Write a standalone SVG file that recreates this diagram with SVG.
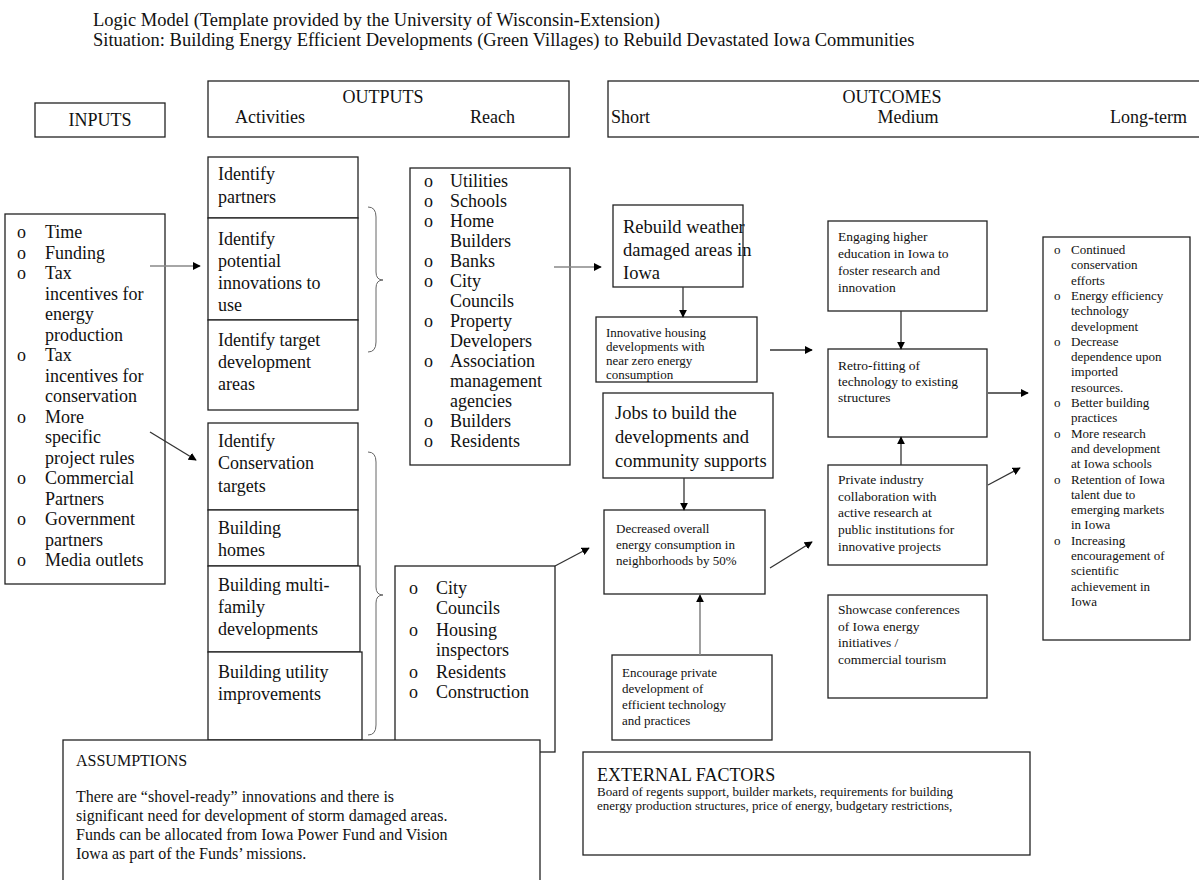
<svg xmlns="http://www.w3.org/2000/svg" width="1199" height="880" viewBox="0 0 1199 880">
<style>
text{font-family:"Liberation Serif","Times New Roman",serif;fill:#111}
.box{fill:#fff;stroke:#222;stroke-width:1.3}
.ttl{font-size:18.5px}
.hd{font-size:18px}
.li{font-size:18px}
.big{font-size:18.5px}
.sm{font-size:13px}
.md{font-size:13.5px}
.lt{font-size:13px}
.c{stroke:#333;stroke-width:1.3;fill:none}
.g{stroke:#888;stroke-width:1.6;fill:none}
.br{stroke:#666;stroke-width:1;fill:none}
</style>
<defs>
<marker id="ah" viewBox="0 0 10 10" refX="9" refY="5" markerWidth="8" markerHeight="8" markerUnits="userSpaceOnUse" orient="auto"><path d="M0,0 L10,5 L0,10 z" fill="#000"/></marker>
</defs>
<rect width="1199" height="880" fill="#fff"/>
<g id="title">
<text class="ttl" x="93" y="26">Logic Model (Template provided by the University of Wisconsin-Extension)</text>
<text class="ttl" x="93" y="46">Situation: Building Energy Efficient Developments (Green Villages) to Rebuild Devastated Iowa Communities</text>
</g>
<g id="hdr-inputs"><rect class="box" x="35" y="103" width="130" height="34"/><text class="hd" x="100" y="126" text-anchor="middle">INPUTS</text></g>
<g id="hdr-outputs"><rect class="box" x="208" y="81" width="361" height="56"/><text class="hd" x="383" y="103" text-anchor="middle">OUTPUTS</text><text class="hd" x="235" y="123">Activities</text><text class="hd" x="470" y="123">Reach</text></g>
<g id="hdr-outcomes"><rect class="box" x="608" y="81" width="600" height="56"/><text class="hd" x="892" y="103" text-anchor="middle">OUTCOMES</text><text class="hd" x="611" y="123">Short</text><text class="hd" x="908" y="123" text-anchor="middle">Medium</text><text class="hd" x="1110" y="123">Long-term</text></g>
<g id="inputs"><rect class="box" x="5" y="214" width="160" height="370"/>
<g class="li">
<text x="17" y="238">o</text><text x="45" y="238">Time</text>
<text x="17" y="258.5">o</text><text x="45" y="258.5">Funding</text>
<text x="17" y="279">o</text><text x="45" y="279">Tax</text>
<text x="45" y="299.5">incentives for</text>
<text x="45" y="320">energy</text>
<text x="45" y="340.5">production</text>
<text x="17" y="361">o</text><text x="45" y="361">Tax</text>
<text x="45" y="381.5">incentives for</text>
<text x="45" y="402">conservation</text>
<text x="17" y="422.5">o</text><text x="45" y="422.5">More</text>
<text x="45" y="443">specific</text>
<text x="45" y="463.5">project rules</text>
<text x="17" y="484">o</text><text x="45" y="484">Commercial</text>
<text x="45" y="504.5">Partners</text>
<text x="17" y="525">o</text><text x="45" y="525">Government</text>
<text x="45" y="545.5">partners</text>
<text x="17" y="566">o</text><text x="45" y="566">Media outlets</text>
</g></g>
<g id="act1" class="li"><rect class="box" x="208" y="157" width="150" height="61"/><text x="218" y="180">Identify</text><text x="218" y="203">partners</text></g>
<g id="act2" class="li"><rect class="box" x="208" y="218" width="150" height="102"/><text x="218" y="245">Identify</text><text x="218" y="267">potential</text><text x="218" y="289">innovations to</text><text x="218" y="311">use</text></g>
<g id="act3" class="li"><rect class="box" x="208" y="320" width="150" height="90"/><text x="218" y="346">Identify target</text><text x="218" y="368">development</text><text x="218" y="390">areas</text></g>
<g id="act4" class="li"><rect class="box" x="208" y="423" width="150" height="87"/><text x="218" y="447">Identify</text><text x="218" y="469">Conservation</text><text x="218" y="492">targets</text></g>
<g id="act5" class="li"><rect class="box" x="208" y="510" width="150" height="56"/><text x="218" y="534">Building</text><text x="218" y="556">homes</text></g>
<g id="act6" class="li"><rect class="box" x="208" y="566" width="152" height="86"/><text x="218" y="591">Building multi-</text><text x="218" y="613">family</text><text x="218" y="635">developments</text></g>
<g id="act7" class="li"><rect class="box" x="208" y="652" width="154" height="88"/><text x="218" y="678">Building utility</text><text x="218" y="700">improvements</text></g>
<g id="braces">
<path class="br" d="M368,207 Q376,207 376,217 L376,272 Q376,280 383,280 Q376,280 376,288 L376,342 Q376,352 368,352"/>
<path class="br" d="M368,452 Q376,452 376,462 L376,587 Q376,595 383,595 Q376,595 376,603 L376,725 Q376,735 368,735"/>
</g>
<g id="reach1" class="li"><rect class="box" x="410" y="168" width="160" height="297"/>
<text x="424" y="187">o</text><text x="450" y="187">Utilities</text>
<text x="424" y="207">o</text><text x="450" y="207">Schools</text>
<text x="424" y="227">o</text><text x="450" y="227">Home</text>
<text x="450" y="247">Builders</text>
<text x="424" y="267">o</text><text x="450" y="267">Banks</text>
<text x="424" y="287">o</text><text x="450" y="287">City</text>
<text x="450" y="307">Councils</text>
<text x="424" y="327">o</text><text x="450" y="327">Property</text>
<text x="450" y="347">Developers</text>
<text x="424" y="367">o</text><text x="450" y="367">Association</text>
<text x="450" y="387">management</text>
<text x="450" y="407">agencies</text>
<text x="424" y="427">o</text><text x="450" y="427">Builders</text>
<text x="424" y="447">o</text><text x="450" y="447">Residents</text>
</g>
<g id="reach2" class="li"><rect class="box" x="395" y="566" width="160" height="186"/>
<text x="409" y="594">o</text><text x="436" y="594">City</text>
<text x="436" y="614">Councils</text>
<text x="409" y="636">o</text><text x="436" y="636">Housing</text>
<text x="436" y="656">inspectors</text>
<text x="409" y="678">o</text><text x="436" y="678">Residents</text>
<text x="409" y="698">o</text><text x="436" y="698">Construction</text>
</g>
<g id="short1" class="big"><rect class="box" x="613" y="205" width="130" height="82"/><text x="623" y="233">Rebuild weather</text><text x="623" y="256">damaged areas in</text><text x="623" y="279">Iowa</text></g>
<g id="short2" class="sm"><rect class="box" x="596" y="317" width="161" height="65"/><text x="606" y="337">Innovative housing</text><text x="606" y="351">developments with</text><text x="606" y="365">near zero energy</text><text x="606" y="379">consumption</text></g>
<g id="short3" class="big"><rect class="box" x="603" y="393" width="170" height="85"/><text x="615" y="419">Jobs to build the</text><text x="615" y="443">developments and</text><text x="615" y="467">community supports</text></g>
<g id="short4" class="sm"><rect class="box" x="604" y="510" width="161" height="84"/><text x="616" y="533">Decreased overall</text><text x="616" y="549">energy consumption in</text><text x="616" y="565">neighborhoods by 50%</text></g>
<g id="short5" class="sm"><rect class="box" x="612" y="655" width="160" height="85"/><text x="622" y="677">Encourage private</text><text x="622" y="693">development of</text><text x="622" y="709">efficient technology</text><text x="622" y="725">and practices</text></g>
<g id="med1" class="md"><rect class="box" x="828" y="221" width="159" height="90"/><text x="838" y="241">Engaging higher</text><text x="838" y="258">education in Iowa to</text><text x="838" y="275">foster research and</text><text x="838" y="292">innovation</text></g>
<g id="med2" class="md"><rect class="box" x="828" y="349" width="159" height="88"/><text x="838" y="370">Retro-fitting of</text><text x="838" y="386">technology to existing</text><text x="838" y="402">structures</text></g>
<g id="med3" class="md"><rect class="box" x="828" y="465" width="159" height="100"/><text x="838" y="484">Private industry</text><text x="838" y="501">collaboration with</text><text x="838" y="517">active research at</text><text x="838" y="534">public institutions for</text><text x="838" y="551">innovative projects</text></g>
<g id="med4" class="md"><rect class="box" x="828" y="595" width="159" height="103"/><text x="838" y="614">Showcase conferences</text><text x="838" y="631">of Iowa energy</text><text x="838" y="647">initiatives /</text><text x="838" y="664">commercial tourism</text></g>
<g id="long" class="lt"><rect class="box" x="1043" y="237" width="147" height="403"/>
<text x="1054" y="254">o</text><text x="1071" y="254">Continued</text>
<text x="1071" y="269.3">conservation</text>
<text x="1071" y="284.6">efforts</text>
<text x="1054" y="299.9">o</text><text x="1071" y="299.9">Energy efficiency</text>
<text x="1071" y="315.2">technology</text>
<text x="1071" y="330.5">development</text>
<text x="1054" y="345.8">o</text><text x="1071" y="345.8">Decrease</text>
<text x="1071" y="361.1">dependence upon</text>
<text x="1071" y="376.4">imported</text>
<text x="1071" y="391.7">resources.</text>
<text x="1054" y="407">o</text><text x="1071" y="407">Better building</text>
<text x="1071" y="422.3">practices</text>
<text x="1054" y="437.6">o</text><text x="1071" y="437.6">More research</text>
<text x="1071" y="452.9">and development</text>
<text x="1071" y="468.2">at Iowa schools</text>
<text x="1054" y="483.5">o</text><text x="1071" y="483.5">Retention of Iowa</text>
<text x="1071" y="498.8">talent due to</text>
<text x="1071" y="514.1">emerging markets</text>
<text x="1071" y="529.4">in Iowa</text>
<text x="1054" y="544.7">o</text><text x="1071" y="544.7">Increasing</text>
<text x="1071" y="560">encouragement of</text>
<text x="1071" y="575.3">scientific</text>
<text x="1071" y="590.6">achievement in</text>
<text x="1071" y="605.9">Iowa</text>
</g>
<g id="assumptions"><rect class="box" x="63" y="740" width="477" height="145"/>
<text x="76" y="766" style="font-size:16px">ASSUMPTIONS</text>
<g style="font-size:16px"><text x="76" y="802">There are “shovel-ready” innovations and there is</text><text x="76" y="821">significant need for development of storm damaged areas.</text><text x="76" y="840">Funds can be allocated from Iowa Power Fund and Vision</text><text x="76" y="859">Iowa as part of the Funds’ missions.</text></g>
</g>
<g id="external"><rect class="box" x="583" y="752" width="447" height="103"/>
<text x="597" y="781" style="font-size:18px">EXTERNAL FACTORS</text>
<g class="sm"><text x="597" y="796">Board of regents support, builder markets, requirements for building</text><text x="597" y="810">energy production structures, price of energy, budgetary restrictions,</text></g>
</g>
<g id="connectors">
<line class="g" x1="150" y1="266" x2="200" y2="266" marker-end="url(#ah)"/>
<line class="c" x1="150" y1="432" x2="196" y2="460" marker-end="url(#ah)"/>
<line class="g" x1="554" y1="267" x2="601" y2="267" marker-end="url(#ah)"/>
<line class="c" x1="555" y1="566" x2="589" y2="548" marker-end="url(#ah)"/>
<line class="c" x1="683" y1="287" x2="683" y2="317" marker-end="url(#ah)"/>
<line class="c" x1="684" y1="478" x2="684" y2="510" marker-end="url(#ah)"/>
<line class="g" x1="700" y1="655" x2="700" y2="595" marker-end="url(#ah)"/>
<line class="c" x1="770" y1="350" x2="812" y2="350" marker-end="url(#ah)"/>
<line class="c" x1="770" y1="568" x2="812" y2="542" marker-end="url(#ah)"/>
<line class="c" x1="901" y1="311" x2="901" y2="349" marker-end="url(#ah)"/>
<line class="c" x1="901" y1="465" x2="901" y2="437" marker-end="url(#ah)"/>
<line class="c" x1="988" y1="393" x2="1028" y2="393" marker-end="url(#ah)"/>
<line class="c" x1="988" y1="485" x2="1020" y2="468" marker-end="url(#ah)"/>
</g>
</svg>
